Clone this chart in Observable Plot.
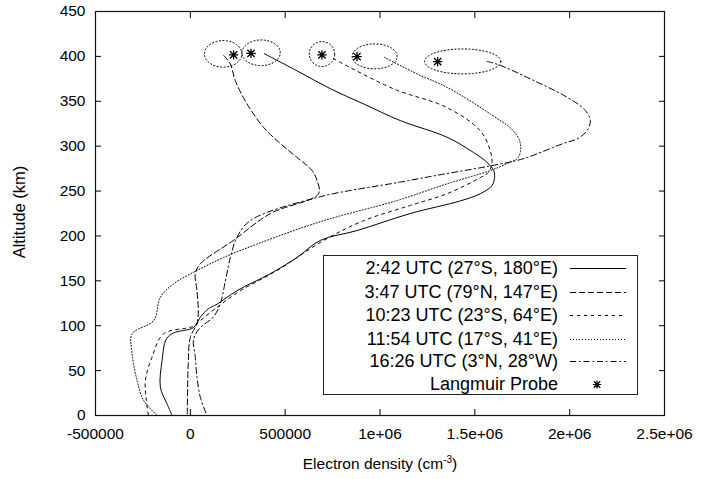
<!DOCTYPE html>
<html>
<head>
<meta charset="utf-8">
<script src="https://cdn.jsdelivr.net/npm/d3@7"></script>
<script src="https://cdn.jsdelivr.net/npm/@observablehq/plot@0.6"></script>
<style>
  body { margin: 0; background: #fff; }
  #wrap { position: relative; width: 704px; height: 479px; font-family: "Liberation Sans", Arial, Helvetica, sans-serif; color: #000; }
  #ylab { position: absolute; left: 19px; top: 212px; transform: translate(-50%, -50%) rotate(-90deg); font-size: 16.5px; white-space: nowrap; }
  #xlab { position: absolute; left: 380px; top: 464px; transform: translate(-50%, -50%); font-size: 15.5px; white-space: nowrap; }
  #xlab sup { font-size: 10px; vertical-align: 6px; line-height: 0; }
  #legend { position: absolute; left: 323px; top: 255px; width: 313px; height: 138px; border: 1.3px solid #222; background: #fff; font-size: 18px; }
  .row { position: absolute; left: 0; width: 313px; height: 23px; }
  .row span { position: absolute; right: 79px; top: 0; line-height: 23px; white-space: nowrap; }
  .row svg { position: absolute; left: 246px; top: 0; }
</style>
</head>
<body>
<div id="wrap">
  <div id="ylab">Altitude (km)</div>
  <div id="xlab">Electron density (cm<sup>-3</sup>)</div>
  <div id="legend"></div>
</div>
<script>
// ---- data (electron density in cm^-3, altitude in km) ----
const utc0242 = [[390000,403],[562000,384],[738000,364],[914000,347],[1107000,328.5],[1353000,310],[1493000,293],[1564000,282],[1599000,273],[1604000,265],[1590000,256],[1529000,247],[1423000,239],[1160000,225],[879000,206],[685000,195],[562000,176],[422000,158],[246000,139],[141000,124],[96000,119],[53000,109.5],[17000,98],[-88000,92],[-127000,85],[-149000,61],[-158000,31.5],[-123000,13],[-96000,0]];
const utc0347 = [[176000,401],[211000,391.6],[237000,373],[299000,347],[386000,321],[474000,303],[562000,287.6],[642000,272.8],[668000,261.7],[676000,247],[422000,225],[227000,195],[53000,169],[26000,158],[35000,139],[42000,113.6],[35000,102.4],[0,87],[-11000,58],[-16000,0]];
const utc1023 = [[754000,397.5],[1070000,364],[1353000,343],[1529000,317],[1581000,295],[1590000,280.6],[1571000,270.6],[1529000,265],[1353000,247],[1160000,234],[914000,217],[703000,195],[457000,161.5],[264000,139],[141000,120.6],[53000,105.8],[10000,99],[-141000,91],[-202000,65],[-237000,39],[-232000,17],[-221000,0]];
const utc1154 = [[1023000,399],[1200000,380],[1353000,365.6],[1581000,336],[1703000,317],[1740000,303],[1729000,287.6],[1669000,280.6],[1581000,272.8],[1353000,258],[1090000,239.4],[703000,217],[352000,191],[176000,176],[35000,161.5],[-88000,146.7],[-158000,131.7],[-193000,105.8],[-307000,91],[-307000,69],[-281000,39],[-246000,16.7],[-174000,0]];
const utc1626 = [[1564000,394.5],[1634000,390],[1792000,375],[1986000,354.5],[2082000,340],[2109000,328.5],[2091000,317],[2038000,308],[1966000,303],[1755000,286],[1581000,278],[1353000,269.5],[1107000,260],[668000,242.8],[316000,217],[246000,198.5],[211000,176],[185000,150],[158000,124.7],[121000,109.5],[53000,98],[17000,85],[26000,65],[35000,43],[53000,20],[88000,0]];

const seriesLabels = ["2:42 UTC (27°S, 180°E)", "3:47 UTC (79°N, 147°E)", "10:23 UTC (23°S, 64°E)", "11:54 UTC (17°S, 41°E)", "16:26 UTC (3°N, 28°W)"];
const probeLabel = "Langmuir Probe";

// Langmuir probe measurements
const probeDensity = [228000, 320000, 694000, 879000, 1304000];
const probeAlt = [401.7, 403.4, 401.7, 399.8, 394.2];

// uncertainty ellipses (centre, half-widths)
const ellCx = [173000, 373000, 694000, 972000, 1436000];
const ellCy = [402.8, 404, 402.6, 400, 394.4];
const ellRx = [99000, 101000, 67000, 118600, 201000];
const ellRy = [14.8, 14.3, 13.9, 13.9, 13.9];

// axis ticks
const xTicks = [-500000, 0, 500000, 1000000, 1500000, 2000000, 2500000];
const xTickLabels = ["-500000", "0", "500000", "1e+06", "1.5e+06", "2e+06", "2.5e+06"];
const yTicks = [0, 50, 100, 150, 200, 250, 300, 350, 400, 450];

// ---- styles ----
const series = [utc0242, utc0347, utc1023, utc1154, utc1626];
const dashes = [null, "6,3", "3,4", "1,2", "6,3,1.5,3"];

// gnuplot-style "*" point: plus and cross combined
const starSymbol = {
  draw(context, size) {
    const h = Math.sqrt(size) * 0.53;
    const d = h * 0.78;
    context.moveTo(-h, 0); context.lineTo(h, 0);
    context.moveTo(0, -h); context.lineTo(0, h);
    context.moveTo(-d, -d); context.lineTo(d, d);
    context.moveTo(-d, d); context.lineTo(d, -d);
  }
};

const ellipsePts = [];
ellCx.forEach((cx, k) => {
  for (let j = 0; j < 72; j++) {
    const t = (j / 72) * 2 * Math.PI;
    ellipsePts.push({k, x: cx + ellRx[k] * Math.cos(t), y: ellCy[k] + ellRy[k] * Math.sin(t)});
  }
});
const probes = probeDensity.map((x, i) => ({x, y: probeAlt[i]}));

const lineMarks = series.map((s, i) => Plot.line(s, {
  x: d => d[0], y: d => d[1], stroke: "#000", strokeWidth: 1,
  strokeDasharray: dashes[i], curve: "catmull-rom"
}));

const plot = Plot.plot({
  width: 704, height: 479,
  marginLeft: 95, marginRight: 40, marginTop: 11, marginBottom: 64,
  style: {fontFamily: "Liberation Sans, Arial, Helvetica, sans-serif", fontSize: "15px", color: "#000", background: "#fff", overflow: "visible"},
  x: {domain: [-500000, 2500000]},
  y: {domain: [0, 450]},
  marks: [
    Plot.axisX(xTicks, {anchor: "bottom", tickSize: -6, tickPadding: 18, tickFormat: d => xTickLabels[xTicks.indexOf(d)], label: null, fontSize: 15.5}),
    Plot.axisX(xTicks, {anchor: "top", tickSize: -6, tickFormat: () => "", label: null}),
    Plot.axisY(yTicks, {anchor: "left", tickSize: -6, tickPadding: 16, tickFormat: d => String(d), label: null, fontSize: 15.5}),
    Plot.axisY(yTicks, {anchor: "right", tickSize: -6, tickFormat: () => "", label: null}),
    ...lineMarks,
    Plot.line(ellipsePts, {x: "x", y: "y", z: "k", stroke: "#000", strokeWidth: 1, strokeDasharray: "1.2,2.3", curve: "linear-closed"}),
    Plot.dot(probes, {x: "x", y: "y", symbol: starSymbol, r: 5, fill: "none", stroke: "#000", strokeWidth: 1.3}),
    Plot.frame({stroke: "#111", strokeWidth: 1.2})
  ]
});
document.getElementById("wrap").prepend(plot);

// ---- legend ----
const legend = document.getElementById("legend");
const rowCenters = [12, 36, 59, 83, 105, 128];
seriesLabels.concat([probeLabel]).forEach((lab, i) => {
  const row = document.createElement("div");
  row.className = "row";
  row.style.top = (rowCenters[i] - 11.5) + "px";
  const sp = document.createElement("span");
  sp.textContent = lab;
  row.appendChild(sp);
  const svg = d3.create("svg").attr("width", 56).attr("height", 23);
  if (i < seriesLabels.length) {
    svg.append("line").attr("x1", 0).attr("x2", 56).attr("y1", 11.5).attr("y2", 11.5)
      .attr("stroke", "#000").attr("stroke-width", 1)
      .attr("stroke-dasharray", dashes[i]);
  } else {
    const p = d3.path();
    starSymbol.draw(p, 60);
    svg.append("path").attr("d", p.toString())
      .attr("transform", "translate(27,11.5)").attr("fill", "none")
      .attr("stroke", "#000").attr("stroke-width", 1.2);
  }
  row.appendChild(svg.node());
  legend.appendChild(row);
});
</script>
</body>
</html>
